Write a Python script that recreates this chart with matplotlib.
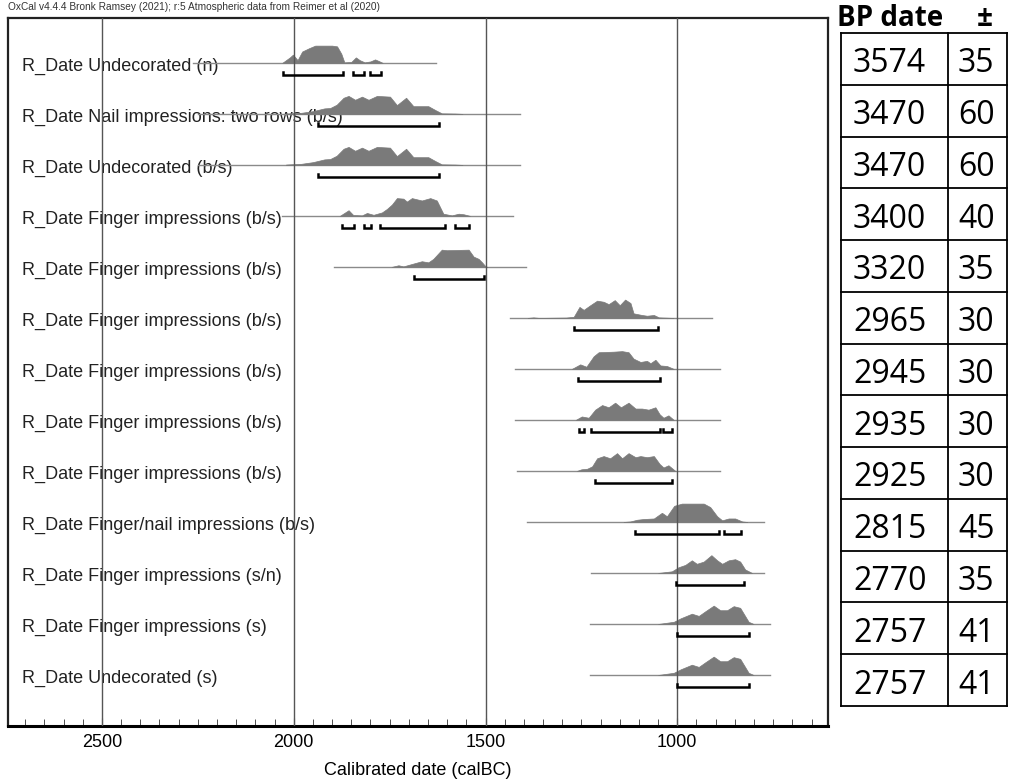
import matplotlib

matplotlib.use("Agg")
import matplotlib.pyplot as plt
import matplotlib.transforms as mtransforms
from matplotlib.ticker import MultipleLocator, FixedLocator

# Row labels, BP dates and errors (top to bottom)
labels = [
    "R_Date Undecorated (n)",
    "R_Date Nail impressions: two rows (b/s)",
    "R_Date Undecorated (b/s)",
    "R_Date Finger impressions (b/s)",
    "R_Date Finger impressions (b/s)",
    "R_Date Finger impressions (b/s)",
    "R_Date Finger impressions (b/s)",
    "R_Date Finger impressions (b/s)",
    "R_Date Finger impressions (b/s)",
    "R_Date Finger/nail impressions (b/s)",
    "R_Date Finger impressions (s/n)",
    "R_Date Finger impressions (s)",
    "R_Date Undecorated (s)",
]
bp_dates = [3574, 3470, 3470, 3400, 3320, 2965, 2945, 2935, 2925, 2815, 2770, 2757, 2757]
bp_errors = [35, 60, 60, 40, 35, 30, 30, 30, 30, 45, 35, 41, 41]

# Calibrated probability curves (calBC year, relative probability)
dist_1 = [(2030, 0), (2010, 0.3), (2002, 0.45), (1990, 0.15), (1978, 0.62), (1960, 0.8),
          (1944, 0.94), (1900, 0.94), (1887, 0.9), (1876, 0.5), (1868, 0.03), (1850, 0.05),
          (1838, 0.3), (1828, 0.15), (1815, 0.03), (1800, 0.08), (1788, 0.19), (1778, 0.1),
          (1768, 0)]
dist_2 = [(2020, 0.02), (1980, 0.06), (1950, 0.15), (1920, 0.3), (1905, 0.32), (1888, 0.5),
          (1870, 0.88), (1857, 0.98), (1840, 0.77), (1822, 0.94), (1805, 0.77), (1783, 0.98),
          (1749, 0.94), (1731, 0.48), (1707, 0.88), (1688, 0.42), (1660, 0.42), (1649, 0.42),
          (1630, 0.2), (1614, 0.03), (1580, 0.02), (1560, 0)]
dist_3 = dist_2
dist_4 = [(1880, 0), (1857, 0.31), (1845, 0.05), (1822, 0.03), (1809, 0.16), (1792, 0.06),
          (1770, 0.19), (1757, 0.38), (1744, 0.62), (1731, 0.97), (1714, 0.94), (1705, 0.78),
          (1692, 0.97), (1666, 0.84), (1644, 0.97), (1627, 0.84), (1610, 0.12), (1588, 0.03),
          (1570, 0.12), (1557, 0.09), (1540, 0)]
dist_5 = [(1745, 0), (1727, 0.09), (1714, 0.03), (1692, 0.16), (1666, 0.31), (1649, 0.25),
          (1636, 0.44), (1614, 0.94), (1601, 0.91), (1544, 0.94), (1531, 0.56), (1518, 0.44),
          (1509, 0.25), (1500, 0.03), (1495, 0)]
dist_6 = [(1390, 0), (1375, 0.03), (1360, 0), (1290, 0.02), (1270, 0.06), (1255, 0.6),
          (1244, 0.44), (1227, 0.69), (1209, 0.94), (1192, 0.88), (1179, 0.75), (1163, 0.97),
          (1150, 0.69), (1136, 1.0), (1122, 0.81), (1114, 0.25), (1092, 0.16), (1079, 0.12),
          (1061, 0.16), (1048, 0.03), (1010, 0)]
dist_7 = [(1275, 0), (1253, 0.25), (1237, 0.12), (1218, 0.69), (1205, 0.91), (1166, 0.94),
          (1144, 0.97), (1127, 0.91), (1114, 0.56), (1096, 0.38), (1079, 0.44), (1070, 0.31),
          (1057, 0.5), (1044, 0.19), (1027, 0.16), (1009, 0)]
dist_8 = [(1265, 0), (1249, 0.19), (1231, 0.12), (1214, 0.56), (1196, 0.81), (1179, 0.69),
          (1162, 0.94), (1147, 0.69), (1127, 0.94), (1109, 0.62), (1092, 0.62), (1075, 0.56),
          (1057, 0.69), (1046, 0.31), (1036, 0.12), (1023, 0.25), (1009, 0)]
dist_9 = [(1262, 0), (1250, 0.09), (1235, 0.12), (1222, 0.25), (1209, 0.69), (1192, 0.81),
          (1175, 0.69), (1157, 0.97), (1144, 0.69), (1127, 0.97), (1109, 0.75), (1096, 0.81),
          (1079, 0.75), (1061, 0.81), (1046, 0.38), (1036, 0.19), (1023, 0.31), (1005, 0)]
dist_10 = [(1140, 0), (1122, 0.03), (1105, 0.12), (1088, 0.16), (1061, 0.19), (1040, 0.5),
           (1027, 0.31), (1008, 0.88), (988, 1.0), (931, 1.0), (914, 0.81), (896, 0.31),
           (883, 0.09), (866, 0.19), (849, 0.19), (831, 0.03), (818, 0)]
dist_11 = [(1050, 0), (1014, 0.09), (997, 0.31), (979, 0.44), (962, 0.69), (949, 0.5),
           (931, 0.62), (911, 0.97), (896, 0.69), (883, 0.5), (866, 0.69), (849, 0.75),
           (836, 0.62), (823, 0.19), (805, 0)]
dist_12 = [(1050, 0), (1009, 0.12), (991, 0.31), (962, 0.56), (944, 0.44), (927, 0.69),
           (905, 1.0), (888, 0.75), (870, 0.75), (853, 0.97), (836, 0.88), (825, 0.5),
           (814, 0.12), (801, 0)]
dist_13 = dist_12
distributions = [dist_1, dist_2, dist_3, dist_4, dist_5, dist_6, dist_7,
                 dist_8, dist_9, dist_10, dist_11, dist_12, dist_13]

# Plotted calibration span for each row (calBC)
spans = [(2263, 1629), (2250, 1410), (2250, 1410), (2030, 1428), (1895, 1395),
         (1436, 909), (1422, 889), (1422, 889), (1418, 888), (1391, 775),
         (1225, 775), (1227, 759), (1227, 759)]

# 95.4% ranges
ranges = [
    [(2028, 1871), (1845, 1816), (1801, 1772)],
    [(1938, 1620)],
    [(1938, 1620)],
    [(1873, 1843), (1818, 1798), (1775, 1605), (1579, 1542)],
    [(1686, 1503)],
    [(1270, 1051)],
    [(1259, 1044)],
    [(1255, 1244), (1225, 1044), (1036, 1014)],
    [(1214, 1014)],
    [(1111, 890), (877, 833)],
    [(1003, 827)],
    [(1001, 814)],
    [(1001, 814)],
]

major_years = [2500, 2000, 1500, 1000]

W, H = 1009, 782


def main() -> None:
    fig = plt.figure(figsize=(W / 100, H / 100), dpi=100)
    chart_font = "Liberation Sans"
    table_font = "Open Sans"

    # main OxCal multiplot
    ax = fig.add_axes([8 / W, 1 - 726 / H, 820 / W, 708 / H])
    ax.set_xlim(2745, 607)
    ax.set_ylim(13.0, -0.88)

    for yr in major_years:
        ax.axvline(yr, color="#555555", lw=1.0, zorder=3)

    peak = 0.36
    label_tr = mtransforms.blended_transform_factory(ax.transAxes, ax.transData)
    for i, (lab, dist, span, rng) in enumerate(zip(labels, distributions, spans, ranges)):
        ax.text(0.017, i + 0.06, lab, transform=label_tr, ha="left", va="center",
                fontsize=13, family=chart_font, color="#222222", zorder=1)
        ax.plot(span, [i, i], color="#8a8a8a", lw=1.0, zorder=2)
        xs = [p[0] for p in dist]
        hs = [i - p[1] * peak for p in dist]
        ax.fill_between(xs, i, hs, color="#7a7a7a", lw=0.5, zorder=2)
        yb = i + 0.245
        for a, b in rng:
            ax.plot([a, a, b, b], [yb - 0.06, yb, yb, yb - 0.06], color="black",
                    lw=1.8, solid_joinstyle="miter", zorder=4)

    ax.set_yticks([])
    ax.xaxis.set_major_locator(FixedLocator(major_years))
    ax.xaxis.set_minor_locator(MultipleLocator(50))
    ax.tick_params(axis="x", which="both", direction="in", top=False, pad=6,
                   labelsize=13, color="#333333")
    ax.tick_params(axis="x", which="major", length=6)
    ax.tick_params(axis="x", which="minor", length=5)
    for t in ax.get_xticklabels():
        t.set_family(chart_font)
    ax.set_xlabel("Calibrated date (calBC)", fontsize=13, family=chart_font, labelpad=8)
    for side in ["left", "right", "top"]:
        ax.spines[side].set_linewidth(1.6)
        ax.spines[side].set_color("#222222")
    ax.spines["bottom"].set_linewidth(2.2)

    fig.text(8 / W, 1 - 7 / H,
             "OxCal v4.4.4 Bronk Ramsey (2021); r:5 Atmospheric data from Reimer et al (2020)",
             fontsize=7.3, family=chart_font, ha="left", va="center", color="#333333")

    # BP date table on the right
    tax = fig.add_axes([841 / W, 1 - 706 / H, 166 / W, 673 / H])
    tax.set_xlim(0, 166)
    tax.set_ylim(len(bp_dates), 0)
    tax.axis("off")
    n = len(bp_dates)
    for r in range(n + 1):
        tax.plot([0, 166], [r, r], color="black", lw=1.3, clip_on=False)
    for c in [0, 107, 166]:
        tax.plot([c, c], [0, n], color="black", lw=1.3, clip_on=False)
    for r, (d, e) in enumerate(zip(bp_dates, bp_errors)):
        tax.text(12, r + 0.76, str(d), fontsize=23, family=table_font,
                 ha="left", va="baseline", color="black")
        tax.text(117, r + 0.76, str(e), fontsize=23, family=table_font,
                 ha="left", va="baseline", color="black")

    fig.text(837 / W, 1 - 18 / H, "BP date", fontsize=20, fontweight="bold",
             family=table_font, ha="left", va="center")
    fig.text(985 / W, 1 - 18 / H, "±", fontsize=20, fontweight="bold",
             family=table_font, ha="center", va="center")

    fig.savefig("out.png", dpi=100)
    plt.close(fig)


if __name__ == "__main__":
    main()
